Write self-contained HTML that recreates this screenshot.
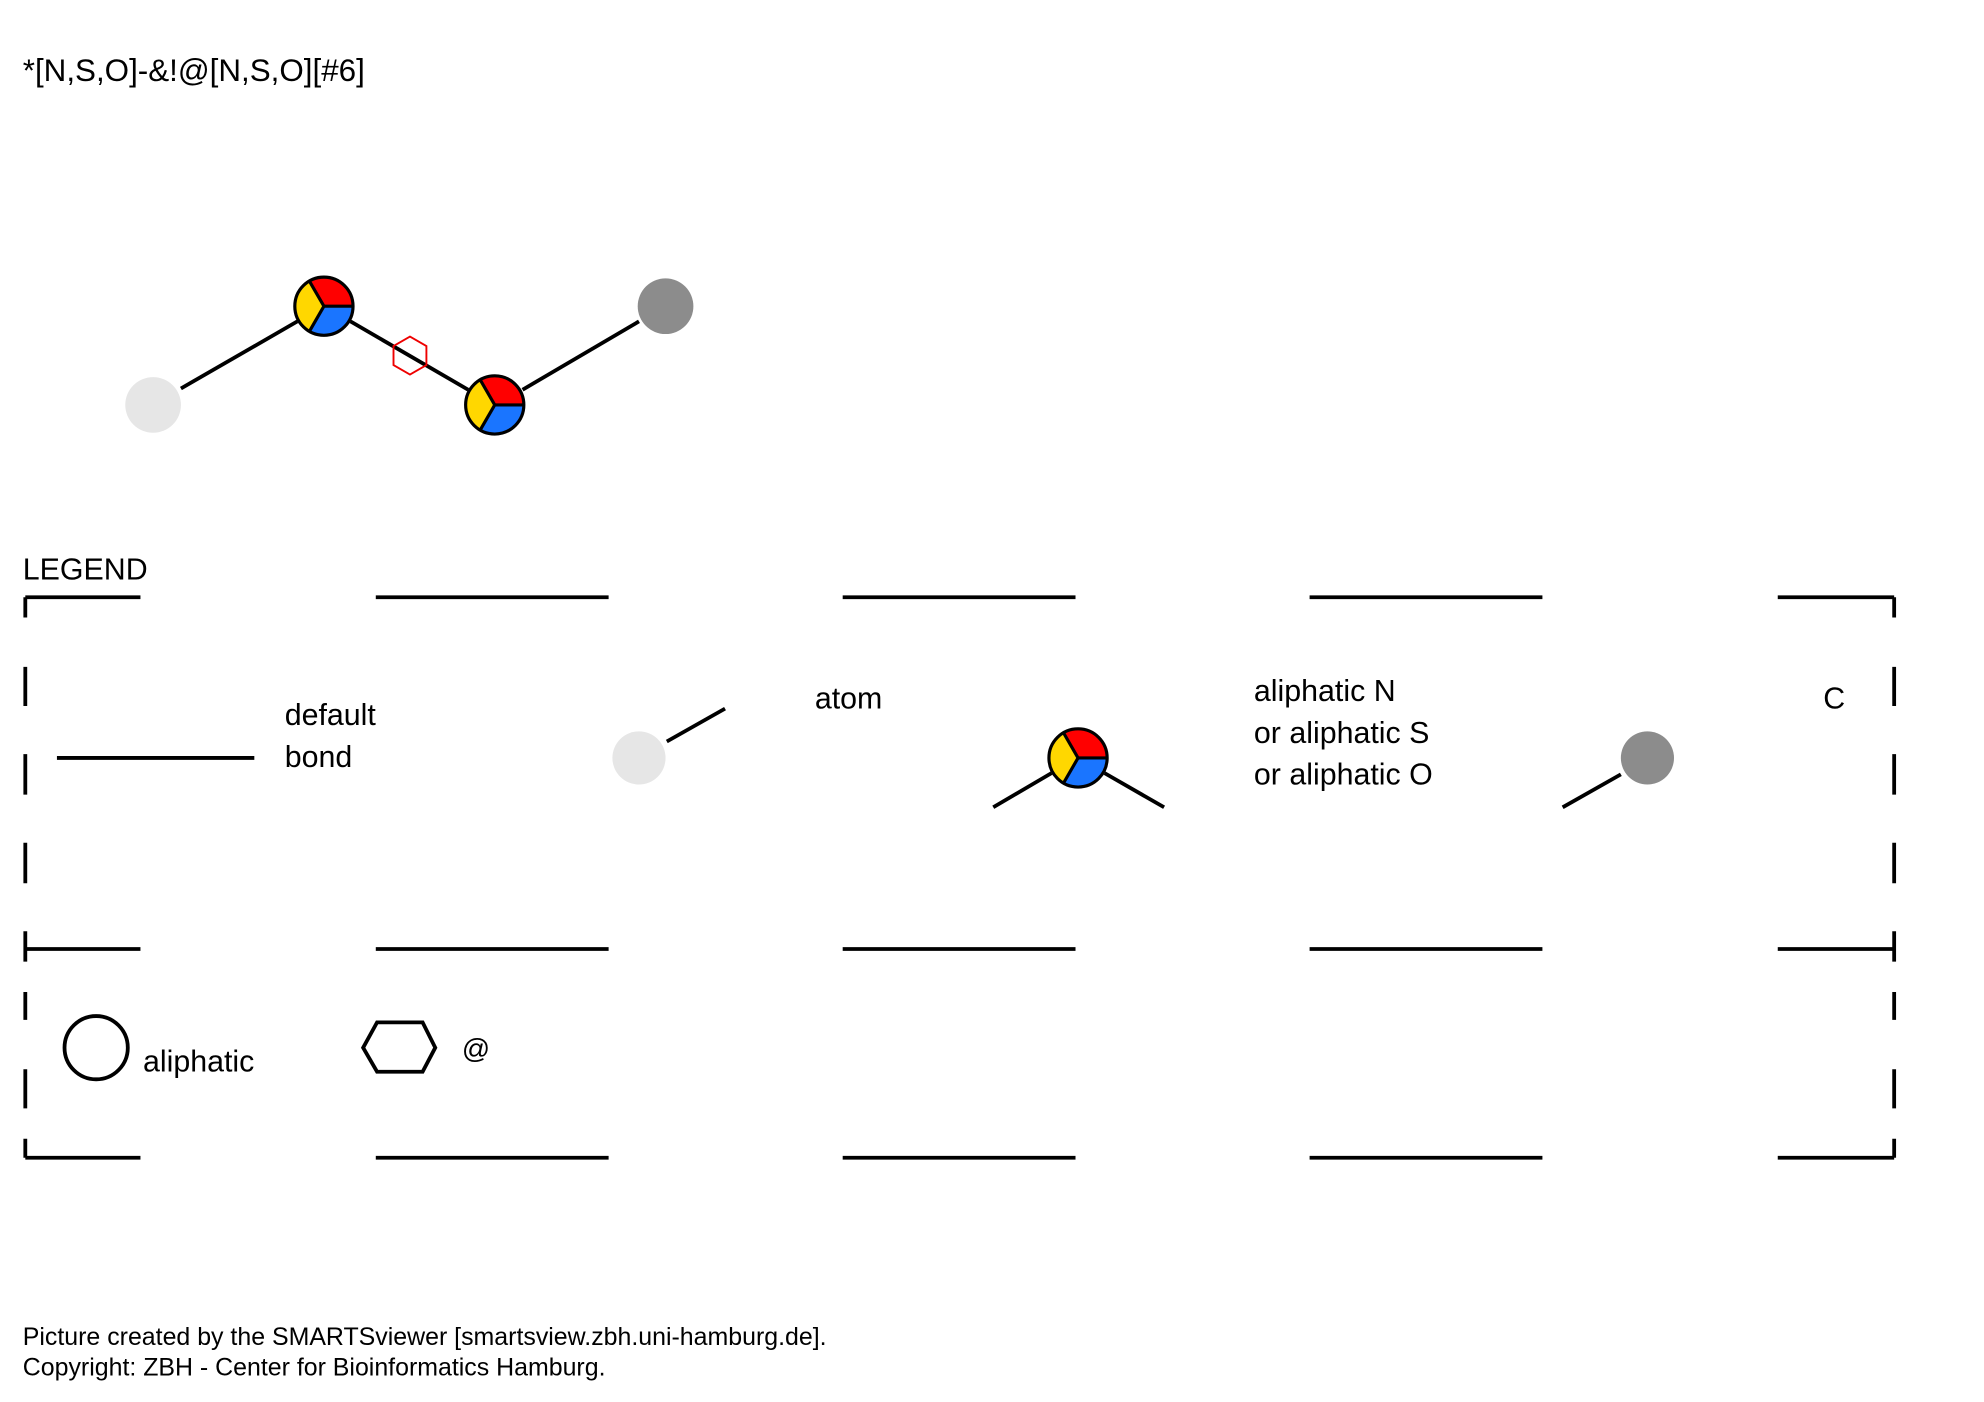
<!DOCTYPE html>
<html><head><meta charset="utf-8"><style>html,body{margin:0;padding:0;background:#fff}svg{display:block}text{font-family:"Liberation Sans",sans-serif;fill:#000}</style></head>
<body>
<svg width="1984" height="1402" viewBox="0 0 1568 1108">
<defs>
<g id="pie">
<path d="M0,0 L-11.5,-19.9 A23,23 0 0 1 23,0 Z" fill="#ff0000"/>
<path d="M0,0 L23,0 A23,23 0 0 1 -11.5,19.9 Z" fill="#1a75ff"/>
<path d="M0,0 L-11.5,19.9 A23,23 0 0 1 -11.5,-19.9 Z" fill="#ffd700"/>
<path d="M0,0 L-11.5,-19.9 M0,0 L23,0 M0,0 L-11.5,19.9" stroke="#000" stroke-width="2.5"/>
<circle r="23" fill="none" stroke="#000" stroke-width="2.5"/>
</g>
</defs>
<text x="18" y="64" font-size="24.8">*[N,S,O]-&amp;!@[N,S,O][#6]</text>
<g stroke="#000" stroke-width="3">
<line x1="143" y1="307" x2="235" y2="254"/>
<line x1="277" y1="254" x2="370" y2="308"/>
<line x1="413" y1="308" x2="505" y2="254"/>
</g>
<polygon points="324,266 337,273.5 337,288.5 324,296 311,288.5 311,273.5" fill="none" stroke="#e00" stroke-width="1.5"/>
<circle cx="121" cy="320" r="22" fill="#e6e6e6"/>
<use href="#pie" x="256" y="242"/>
<use href="#pie" x="391" y="320"/>
<circle cx="526" cy="242" r="22" fill="#8c8c8c"/>

<text x="18" y="458" font-size="24">LEGEND</text>
<g stroke="#000" stroke-width="3">
<path d="M20,472H111M297,472H481M666,472H850M1035,472H1219M1405,472H1497"/>
<path d="M20,750H111M297,750H481M666,750H850M1035,750H1219M1405,750H1497"/>
<path d="M20,915H111M297,915H481M666,915H850M1035,915H1219M1405,915H1497"/>
<path d="M20,472V488M20,527V558M20,596V628M20,666V698M20,736V760M20,784V806M20,845V876M20,900V915"/>
<path d="M1497,472V488M1497,527V558M1497,596V628M1497,666V698M1497,736V760M1497,784V806M1497,845V876M1497,900V915"/>
</g>
<line x1="45" y1="599" x2="201" y2="599" stroke="#000" stroke-width="3"/>
<text x="225" y="573" font-size="24">default</text>
<text x="225" y="606" font-size="24">bond</text>
<line x1="527" y1="586" x2="573" y2="560" stroke="#000" stroke-width="3"/>
<circle cx="505" cy="599" r="21" fill="#e6e6e6"/>
<text x="644" y="560" font-size="24">atom</text>
<line x1="785" y1="638" x2="831" y2="611" stroke="#000" stroke-width="3"/>
<line x1="873" y1="611" x2="920" y2="638" stroke="#000" stroke-width="3"/>
<use href="#pie" x="852" y="599"/>
<text font-size="24"><tspan x="991" y="554">aliphatic N</tspan><tspan x="991" y="587">or aliphatic S</tspan><tspan x="991" y="620">or aliphatic O</tspan></text>
<line x1="1235" y1="638" x2="1281" y2="612" stroke="#000" stroke-width="3"/>
<circle cx="1302" cy="599" r="21" fill="#8c8c8c"/>
<text x="1441" y="560" font-size="24">C</text>
<circle cx="76" cy="828" r="25" fill="none" stroke="#000" stroke-width="3"/>
<text x="113" y="847" font-size="24">aliphatic</text>
<polygon points="287,828 298,808 334,808 344,828 334,847 298,847" fill="none" stroke="#000" stroke-width="3"/>
<text x="365" y="836" font-size="22">@</text>
<text x="18" y="1063" font-size="19.7">Picture created by the SMARTSviewer [smartsview.zbh.uni-hamburg.de].</text>
<text x="18" y="1087" font-size="19.7">Copyright: ZBH - Center for Bioinformatics Hamburg.</text>
</svg>
</body></html>
